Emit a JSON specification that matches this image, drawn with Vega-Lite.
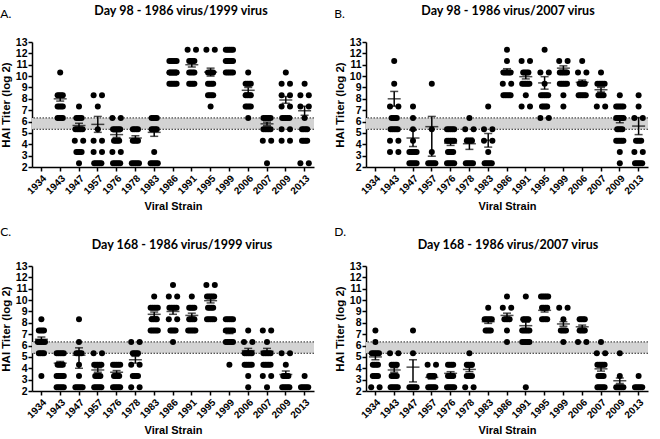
{
"$schema":"https://vega.github.io/schema/vega-lite/v6.json",
"background":"white",
"padding":{"left":0,"top":4,"right":0,"bottom":0},
"config":{
 "font":"Liberation Sans",
 "view":{"stroke":null},
 "axis":{"grid":false,"labelFont":"Liberation Sans","titleFont":"Liberation Sans","labelFontWeight":700,"titleFontWeight":700,"labelColor":"#000","titleColor":"#000","domainColor":"#000","tickColor":"#000","domainWidth":1.5,"tickWidth":1.5,"labelOverlap":false},
 "axisX":{"labelAngle":-45,"labelFontSize":10,"titleFontSize":11,"tickSize":4,"labelPadding":2,"titlePadding":5},
 "axisY":{"labelFontSize":10.5,"titleFontSize":11.5,"tickSize":4,"labelPadding":1,"titlePadding":4},
 "title":{"font":"Lato","fontWeight":"bold","fontSize":12.5,"color":"#000"}
},
"datasets":{
 "ref":[{"lo":5.32,"hi":6.32}],
 "swarm":[{"n":1,"k":[0]},{"n":2,"k":[-4.2,4.2]},{"n":3,"k":[-1.6,0,1.6]},{"n":4,"k":[-2.6,-0.9,0.9,2.6]},{"n":5,"k":[-3.6,-1.8,0,1.8,3.6]}],
 "pts":[
{"p":"A","s":"1943","t":10.32,"n":1},{"p":"A","s":"1943","t":8.32,"n":4},{"p":"A","s":"1943","t":7.32,"n":4},{"p":"A","s":"1943","t":6.32,"n":4},
{"p":"A","s":"1947","t":7.32,"n":1},{"p":"A","s":"1947","t":6.32,"n":4},{"p":"A","s":"1947","t":5.32,"n":5},{"p":"A","s":"1947","t":4.32,"n":2},{"p":"A","s":"1947","t":3.32,"n":4},{"p":"A","s":"1947","t":2.32,"n":1},
{"p":"A","s":"1957","t":8.32,"n":2},{"p":"A","s":"1957","t":7.32,"n":1},{"p":"A","s":"1957","t":5.32,"n":1},{"p":"A","s":"1957","t":4.32,"n":2},{"p":"A","s":"1957","t":3.32,"n":2},{"p":"A","s":"1957","t":2.32,"n":5},
{"p":"A","s":"1976","t":6.32,"n":2},{"p":"A","s":"1976","t":5.32,"n":5},{"p":"A","s":"1976","t":4.32,"n":4},{"p":"A","s":"1976","t":3.32,"n":2},{"p":"A","s":"1976","t":2.32,"n":5},
{"p":"A","s":"1978","t":5.32,"n":4},{"p":"A","s":"1978","t":4.32,"n":4},{"p":"A","s":"1978","t":2.32,"n":5},
{"p":"A","s":"1983","t":6.32,"n":4},{"p":"A","s":"1983","t":5.32,"n":4},{"p":"A","s":"1983","t":3.32,"n":1},{"p":"A","s":"1983","t":2.32,"n":5},
{"p":"A","s":"1986","t":11.32,"n":5},{"p":"A","s":"1986","t":10.32,"n":5},{"p":"A","s":"1986","t":9.32,"n":5},
{"p":"A","s":"1991","t":12.32,"n":2},{"p":"A","s":"1991","t":11.32,"n":4},{"p":"A","s":"1991","t":10.32,"n":4},{"p":"A","s":"1991","t":9.32,"n":4},
{"p":"A","s":"1995","t":12.32,"n":2},{"p":"A","s":"1995","t":10.32,"n":4},{"p":"A","s":"1995","t":9.32,"n":4},{"p":"A","s":"1995","t":8.32,"n":4},{"p":"A","s":"1995","t":7.32,"n":1},
{"p":"A","s":"1999","t":12.32,"n":5},{"p":"A","s":"1999","t":11.32,"n":5},{"p":"A","s":"1999","t":10.32,"n":5},
{"p":"A","s":"2006","t":10.32,"n":1},{"p":"A","s":"2006","t":9.32,"n":4},{"p":"A","s":"2006","t":8.32,"n":4},{"p":"A","s":"2006","t":7.32,"n":4},{"p":"A","s":"2006","t":6.32,"n":1},
{"p":"A","s":"2007","t":6.32,"n":5},{"p":"A","s":"2007","t":5.32,"n":5},{"p":"A","s":"2007","t":4.32,"n":2},{"p":"A","s":"2007","t":2.32,"n":1},
{"p":"A","s":"2009","t":10.32,"n":1},{"p":"A","s":"2009","t":9.32,"n":2},{"p":"A","s":"2009","t":8.32,"n":2},{"p":"A","s":"2009","t":7.32,"n":2},{"p":"A","s":"2009","t":6.32,"n":5},{"p":"A","s":"2009","t":5.32,"n":2},{"p":"A","s":"2009","t":4.32,"n":2},
{"p":"A","s":"2013","t":9.32,"n":1},{"p":"A","s":"2013","t":8.32,"n":2},{"p":"A","s":"2013","t":7.32,"n":2},{"p":"A","s":"2013","t":6.32,"n":1},{"p":"A","s":"2013","t":5.32,"n":4},{"p":"A","s":"2013","t":4.32,"n":4},{"p":"A","s":"2013","t":2.32,"n":2},
{"p":"B","s":"1943","t":11.32,"n":1},{"p":"B","s":"1943","t":9.32,"n":1},{"p":"B","s":"1943","t":7.32,"n":2},{"p":"B","s":"1943","t":6.32,"n":4},{"p":"B","s":"1943","t":5.32,"n":5},{"p":"B","s":"1943","t":4.32,"n":2},{"p":"B","s":"1943","t":3.32,"n":2},
{"p":"B","s":"1947","t":7.32,"n":1},{"p":"B","s":"1947","t":6.32,"n":1},{"p":"B","s":"1947","t":5.32,"n":1},{"p":"B","s":"1947","t":4.32,"n":1},{"p":"B","s":"1947","t":3.32,"n":5},{"p":"B","s":"1947","t":2.32,"n":5},
{"p":"B","s":"1957","t":9.32,"n":1},{"p":"B","s":"1957","t":5.32,"n":1},{"p":"B","s":"1957","t":3.32,"n":1},{"p":"B","s":"1957","t":2.32,"n":5},
{"p":"B","s":"1976","t":5.32,"n":5},{"p":"B","s":"1976","t":4.32,"n":5},{"p":"B","s":"1976","t":3.32,"n":4},{"p":"B","s":"1976","t":2.32,"n":5},
{"p":"B","s":"1978","t":6.32,"n":1},{"p":"B","s":"1978","t":5.32,"n":2},{"p":"B","s":"1978","t":4.32,"n":4},{"p":"B","s":"1978","t":2.32,"n":5},
{"p":"B","s":"1983","t":7.32,"n":1},{"p":"B","s":"1983","t":5.32,"n":2},{"p":"B","s":"1983","t":4.32,"n":2},{"p":"B","s":"1983","t":3.32,"n":1},{"p":"B","s":"1983","t":2.32,"n":5},
{"p":"B","s":"1986","t":12.32,"n":1},{"p":"B","s":"1986","t":11.32,"n":1},{"p":"B","s":"1986","t":10.32,"n":5},{"p":"B","s":"1986","t":9.32,"n":2},{"p":"B","s":"1986","t":8.32,"n":5},
{"p":"B","s":"1991","t":11.32,"n":2},{"p":"B","s":"1991","t":10.32,"n":4},{"p":"B","s":"1991","t":9.32,"n":5},{"p":"B","s":"1991","t":8.32,"n":1},{"p":"B","s":"1991","t":7.32,"n":2},
{"p":"B","s":"1995","t":12.32,"n":1},{"p":"B","s":"1995","t":10.32,"n":2},{"p":"B","s":"1995","t":9.32,"n":1},{"p":"B","s":"1995","t":8.32,"n":5},{"p":"B","s":"1995","t":7.32,"n":4},{"p":"B","s":"1995","t":6.32,"n":2},
{"p":"B","s":"1999","t":11.32,"n":2},{"p":"B","s":"1999","t":10.32,"n":5},{"p":"B","s":"1999","t":9.32,"n":5},{"p":"B","s":"1999","t":8.32,"n":1},{"p":"B","s":"1999","t":7.32,"n":1},
{"p":"B","s":"2006","t":11.32,"n":1},{"p":"B","s":"2006","t":10.32,"n":2},{"p":"B","s":"2006","t":9.32,"n":4},{"p":"B","s":"2006","t":8.32,"n":5},
{"p":"B","s":"2007","t":10.32,"n":1},{"p":"B","s":"2007","t":9.32,"n":5},{"p":"B","s":"2007","t":8.32,"n":4},{"p":"B","s":"2007","t":7.32,"n":2},
{"p":"B","s":"2009","t":8.32,"n":1},{"p":"B","s":"2009","t":7.32,"n":5},{"p":"B","s":"2009","t":6.32,"n":5},{"p":"B","s":"2009","t":5.32,"n":4},{"p":"B","s":"2009","t":4.32,"n":5},{"p":"B","s":"2009","t":3.32,"n":1},{"p":"B","s":"2009","t":2.32,"n":1},
{"p":"B","s":"2013","t":8.32,"n":1},{"p":"B","s":"2013","t":7.32,"n":1},{"p":"B","s":"2013","t":6.32,"n":2},{"p":"B","s":"2013","t":4.32,"n":4},{"p":"B","s":"2013","t":3.32,"n":2},{"p":"B","s":"2013","t":2.32,"n":5},
{"p":"C","s":"1934","t":8.32,"n":1},{"p":"C","s":"1934","t":7.32,"n":4},{"p":"C","s":"1934","t":6.32,"n":5},{"p":"C","s":"1934","t":5.32,"n":4},{"p":"C","s":"1934","t":3.32,"n":1},
{"p":"C","s":"1943","t":5.32,"n":5},{"p":"C","s":"1943","t":4.32,"n":4},{"p":"C","s":"1943","t":3.32,"n":5},{"p":"C","s":"1943","t":2.32,"n":5},
{"p":"C","s":"1947","t":8.32,"n":1},{"p":"C","s":"1947","t":6.32,"n":1},{"p":"C","s":"1947","t":5.32,"n":4},{"p":"C","s":"1947","t":4.32,"n":1},{"p":"C","s":"1947","t":3.32,"n":1},{"p":"C","s":"1947","t":2.32,"n":5},
{"p":"C","s":"1957","t":5.32,"n":2},{"p":"C","s":"1957","t":4.32,"n":5},{"p":"C","s":"1957","t":3.32,"n":4},{"p":"C","s":"1957","t":2.32,"n":5},
{"p":"C","s":"1976","t":4.32,"n":5},{"p":"C","s":"1976","t":3.32,"n":4},{"p":"C","s":"1976","t":2.32,"n":5},
{"p":"C","s":"1978","t":6.32,"n":2},{"p":"C","s":"1978","t":5.32,"n":4},{"p":"C","s":"1978","t":4.32,"n":2},{"p":"C","s":"1978","t":3.32,"n":4},{"p":"C","s":"1978","t":2.32,"n":2},
{"p":"C","s":"1983","t":10.32,"n":1},{"p":"C","s":"1983","t":9.32,"n":5},{"p":"C","s":"1983","t":8.32,"n":4},{"p":"C","s":"1983","t":7.32,"n":5},
{"p":"C","s":"1986","t":11.32,"n":1},{"p":"C","s":"1986","t":10.32,"n":2},{"p":"C","s":"1986","t":9.32,"n":5},{"p":"C","s":"1986","t":8.32,"n":2},{"p":"C","s":"1986","t":7.32,"n":4},{"p":"C","s":"1986","t":6.32,"n":1},
{"p":"C","s":"1991","t":10.32,"n":1},{"p":"C","s":"1991","t":9.32,"n":4},{"p":"C","s":"1991","t":8.32,"n":4},{"p":"C","s":"1991","t":7.32,"n":5},
{"p":"C","s":"1995","t":11.32,"n":2},{"p":"C","s":"1995","t":10.32,"n":5},{"p":"C","s":"1995","t":9.32,"n":4},{"p":"C","s":"1995","t":8.32,"n":5},
{"p":"C","s":"1999","t":8.32,"n":5},{"p":"C","s":"1999","t":7.32,"n":5},{"p":"C","s":"1999","t":6.32,"n":5},{"p":"C","s":"1999","t":4.32,"n":1},
{"p":"C","s":"2006","t":7.32,"n":1},{"p":"C","s":"2006","t":6.32,"n":2},{"p":"C","s":"2006","t":5.32,"n":5},{"p":"C","s":"2006","t":4.32,"n":5},{"p":"C","s":"2006","t":3.32,"n":1},{"p":"C","s":"2006","t":2.32,"n":1},
{"p":"C","s":"2007","t":7.32,"n":2},{"p":"C","s":"2007","t":6.32,"n":1},{"p":"C","s":"2007","t":5.32,"n":5},{"p":"C","s":"2007","t":4.32,"n":5},{"p":"C","s":"2007","t":3.32,"n":2},{"p":"C","s":"2007","t":2.32,"n":1},
{"p":"C","s":"2009","t":5.32,"n":2},{"p":"C","s":"2009","t":4.32,"n":1},{"p":"C","s":"2009","t":3.32,"n":4},{"p":"C","s":"2009","t":2.32,"n":5},
{"p":"C","s":"2013","t":3.32,"n":1},{"p":"C","s":"2013","t":2.32,"n":5},
{"p":"D","s":"1934","t":7.32,"n":1},{"p":"D","s":"1934","t":6.32,"n":1},{"p":"D","s":"1934","t":5.32,"n":5},{"p":"D","s":"1934","t":4.32,"n":4},{"p":"D","s":"1934","t":3.32,"n":4},{"p":"D","s":"1934","t":2.32,"n":2},
{"p":"D","s":"1943","t":5.32,"n":2},{"p":"D","s":"1943","t":4.32,"n":4},{"p":"D","s":"1943","t":3.32,"n":4},{"p":"D","s":"1943","t":2.32,"n":5},
{"p":"D","s":"1947","t":7.32,"n":1},{"p":"D","s":"1947","t":5.32,"n":1},{"p":"D","s":"1947","t":2.32,"n":5},
{"p":"D","s":"1957","t":4.32,"n":2},{"p":"D","s":"1957","t":3.32,"n":4},{"p":"D","s":"1957","t":2.32,"n":5},
{"p":"D","s":"1976","t":4.32,"n":4},{"p":"D","s":"1976","t":3.32,"n":4},{"p":"D","s":"1976","t":2.32,"n":5},
{"p":"D","s":"1978","t":5.32,"n":1},{"p":"D","s":"1978","t":4.32,"n":4},{"p":"D","s":"1978","t":3.32,"n":4},{"p":"D","s":"1978","t":2.32,"n":2},
{"p":"D","s":"1983","t":9.32,"n":1},{"p":"D","s":"1983","t":8.32,"n":5},{"p":"D","s":"1983","t":7.32,"n":4},
{"p":"D","s":"1986","t":10.32,"n":1},{"p":"D","s":"1986","t":9.32,"n":2},{"p":"D","s":"1986","t":8.32,"n":4},{"p":"D","s":"1986","t":7.32,"n":1},{"p":"D","s":"1986","t":6.32,"n":1},
{"p":"D","s":"1991","t":10.32,"n":1},{"p":"D","s":"1991","t":8.32,"n":4},{"p":"D","s":"1991","t":7.32,"n":5},{"p":"D","s":"1991","t":6.32,"n":5},{"p":"D","s":"1991","t":2.32,"n":1},
{"p":"D","s":"1995","t":10.32,"n":5},{"p":"D","s":"1995","t":9.32,"n":4},{"p":"D","s":"1995","t":8.32,"n":4},
{"p":"D","s":"1999","t":9.32,"n":2},{"p":"D","s":"1999","t":8.32,"n":1},{"p":"D","s":"1999","t":7.32,"n":4},{"p":"D","s":"1999","t":6.32,"n":1},
{"p":"D","s":"2006","t":8.32,"n":4},{"p":"D","s":"2006","t":7.32,"n":4},{"p":"D","s":"2006","t":6.32,"n":2},
{"p":"D","s":"2007","t":6.32,"n":1},{"p":"D","s":"2007","t":5.32,"n":2},{"p":"D","s":"2007","t":4.32,"n":5},{"p":"D","s":"2007","t":3.32,"n":4},{"p":"D","s":"2007","t":2.32,"n":5},
{"p":"D","s":"2009","t":5.32,"n":1},{"p":"D","s":"2009","t":3.32,"n":1},{"p":"D","s":"2009","t":2.32,"n":5},
{"p":"D","s":"2013","t":3.32,"n":1},{"p":"D","s":"2013","t":2.32,"n":5}
 ],
 "bars":[
{"p":"A","s":"1943","m":8.0,"lo":7.8,"hi":8.2},{"p":"A","s":"1947","m":5.65,"lo":5.45,"hi":5.85},{"p":"A","s":"1957","m":5.75,"lo":5.05,"hi":6.45},{"p":"A","s":"1976","m":4.85,"lo":4.6,"hi":5.1},{"p":"A","s":"1978","m":4.55,"lo":4.35,"hi":4.75},{"p":"A","s":"1983","m":5.05,"lo":4.7,"hi":5.4},{"p":"A","s":"1986","m":10.3,"lo":10.1,"hi":10.5},{"p":"A","s":"1991","m":11.0,"lo":10.8,"hi":11.2},{"p":"A","s":"1995","m":10.35,"lo":10.0,"hi":10.7},{"p":"A","s":"1999","m":11.35,"lo":11.2,"hi":11.5},{"p":"A","s":"2006","m":8.75,"lo":8.5,"hi":9.0},{"p":"A","s":"2007","m":5.8,"lo":5.65,"hi":5.95},{"p":"A","s":"2009","m":7.9,"lo":7.6,"hi":8.2},{"p":"A","s":"2013","m":6.95,"lo":6.55,"hi":7.35},
{"p":"B","s":"1943","m":8.0,"lo":7.35,"hi":8.65},{"p":"B","s":"1947","m":4.55,"lo":3.8,"hi":5.25},{"p":"B","s":"1957","m":5.55,"lo":2.95,"hi":6.45},{"p":"B","s":"1976","m":4.1,"lo":3.9,"hi":4.3},{"p":"B","s":"1978","m":4.05,"lo":3.55,"hi":4.55},{"p":"B","s":"1983","m":4.35,"lo":3.75,"hi":4.95},{"p":"B","s":"1986","m":10.4,"lo":10.15,"hi":10.65},{"p":"B","s":"1991","m":9.95,"lo":9.75,"hi":10.15},{"p":"B","s":"1995","m":9.4,"lo":8.85,"hi":9.95},{"p":"B","s":"1999","m":10.7,"lo":10.5,"hi":10.9},{"p":"B","s":"2006","m":9.45,"lo":9.25,"hi":9.65},{"p":"B","s":"2007","m":8.8,"lo":8.6,"hi":9.0},{"p":"B","s":"2009","m":6.15,"lo":5.9,"hi":6.4},{"p":"B","s":"2013","m":5.6,"lo":4.85,"hi":6.35},
{"p":"C","s":"1934","m":6.55,"lo":6.35,"hi":6.75},{"p":"C","s":"1943","m":4.45,"lo":4.3,"hi":4.6},{"p":"C","s":"1947","m":5.15,"lo":4.0,"hi":5.8},{"p":"C","s":"1957","m":3.85,"lo":3.65,"hi":4.05},{"p":"C","s":"1976","m":3.65,"lo":3.5,"hi":3.8},{"p":"C","s":"1978","m":4.75,"lo":4.45,"hi":5.05},{"p":"C","s":"1983","m":8.75,"lo":8.55,"hi":8.95},{"p":"C","s":"1986","m":9.0,"lo":8.75,"hi":9.25},{"p":"C","s":"1991","m":8.65,"lo":8.45,"hi":8.85},{"p":"C","s":"1995","m":9.95,"lo":9.75,"hi":10.15},{"p":"C","s":"1999","m":7.2,"lo":7.05,"hi":7.35},{"p":"C","s":"2006","m":5.55,"lo":5.35,"hi":5.75},{"p":"C","s":"2007","m":5.5,"lo":5.25,"hi":5.75},{"p":"C","s":"2009","m":3.45,"lo":3.2,"hi":3.75},{"p":"C","s":"2013","m":2.4,"lo":2.35,"hi":2.45},
{"p":"D","s":"1934","m":5.0,"lo":4.75,"hi":5.25},{"p":"D","s":"1943","m":3.85,"lo":3.65,"hi":4.05},{"p":"D","s":"1947","m":4.1,"lo":2.8,"hi":4.75},{"p":"D","s":"1957","m":3.2,"lo":3.05,"hi":3.35},{"p":"D","s":"1976","m":3.55,"lo":3.4,"hi":3.7},{"p":"D","s":"1978","m":3.9,"lo":3.7,"hi":4.1},{"p":"D","s":"1983","m":8.1,"lo":7.95,"hi":8.25},{"p":"D","s":"1986","m":8.65,"lo":8.45,"hi":8.85},{"p":"D","s":"1991","m":7.75,"lo":7.45,"hi":8.05},{"p":"D","s":"1995","m":9.1,"lo":8.95,"hi":9.25},{"p":"D","s":"1999","m":7.9,"lo":7.7,"hi":8.1},{"p":"D","s":"2006","m":7.65,"lo":7.5,"hi":7.8},{"p":"D","s":"2007","m":3.95,"lo":3.75,"hi":4.15},{"p":"D","s":"2009","m":2.9,"lo":2.65,"hi":3.15},{"p":"D","s":"2013","m":2.4,"lo":2.35,"hi":2.45}
 ]
},
"spacing":13,
"vconcat":[
 {"spacing":19,"hconcat":[
  {"title":{"text":"A.","anchor":"start","offset":-16,"fontWeight":"normal","fontSize":12},
   "vconcat":[{
    "title":{"text":"Day 98 - 1986 virus/1999 virus","frame":"group","dx":8,"offset":20},
    "width":282,"height":125,
    "layer":[
     {"data":{"name":"ref"},"mark":{"type":"rect","color":"#d3d3d3"},"encoding":{"y":{"field":"lo","type":"quantitative","title":"HAI Titer (log 2)","scale":{"domain":[2,13],"nice":false,"zero":false},"axis":{"values":[2,3,4,5,6,7,8,9,10,11,12,13]}},"y2":{"field":"hi"}}},
     {"data":{"name":"ref"},"mark":{"type":"rule","color":"#222","strokeDash":[1.5,1.5],"strokeWidth":1},"encoding":{"y":{"field":"lo","type":"quantitative","title":"HAI Titer (log 2)","scale":{"domain":[2,13],"nice":false,"zero":false},"axis":{"values":[2,3,4,5,6,7,8,9,10,11,12,13]}}}},
     {"data":{"name":"ref"},"mark":{"type":"rule","color":"#222","strokeDash":[1.5,1.5],"strokeWidth":1},"encoding":{"y":{"field":"hi","type":"quantitative","title":"HAI Titer (log 2)","scale":{"domain":[2,13],"nice":false,"zero":false},"axis":{"values":[2,3,4,5,6,7,8,9,10,11,12,13]}}}},
     {"data":{"name":"pts"},"transform":[{"filter":"datum.p=='A'"},{"lookup":"n","from":{"data":{"name":"swarm"},"key":"n","fields":["k"]}},{"flatten":["k"]}],
      "mark":{"type":"circle","size":36,"color":"#000","opacity":1},
      "encoding":{"x":{"field":"s","type":"nominal","title":"Viral Strain","scale":{"type":"band","domain":["1934","1943","1947","1957","1976","1978","1983","1986","1991","1995","1999","2006","2007","2009","2013"],"paddingInner":0,"paddingOuter":0}},
       "xOffset":{"field":"k","type":"quantitative","scale":{"domain":[-9.4,9.4],"range":[0,18.8]}},
       "y":{"field":"t","type":"quantitative","title":"HAI Titer (log 2)","scale":{"domain":[2,13],"nice":false,"zero":false},"axis":{"values":[2,3,4,5,6,7,8,9,10,11,12,13]}}}},
     {"data":{"name":"bars"},"transform":[{"filter":"datum.p=='A'"}],"mark":{"type":"rule","color":"#000","strokeWidth":1.5},
      "encoding":{"x":{"field":"s","type":"nominal","title":"Viral Strain","scale":{"type":"band","domain":["1934","1943","1947","1957","1976","1978","1983","1986","1991","1995","1999","2006","2007","2009","2013"],"paddingInner":0,"paddingOuter":0}},
       "y":{"field":"lo","type":"quantitative","title":"HAI Titer (log 2)","scale":{"domain":[2,13],"nice":false,"zero":false},"axis":{"values":[2,3,4,5,6,7,8,9,10,11,12,13]}},"y2":{"field":"hi"}}},
     {"data":{"name":"bars"},"transform":[{"filter":"datum.p=='A'"}],"mark":{"type":"tick","color":"#000","size":8,"thickness":1.5},
      "encoding":{"x":{"field":"s","type":"nominal","title":"Viral Strain","scale":{"type":"band","domain":["1934","1943","1947","1957","1976","1978","1983","1986","1991","1995","1999","2006","2007","2009","2013"],"paddingInner":0,"paddingOuter":0}},
       "y":{"field":"lo","type":"quantitative","title":"HAI Titer (log 2)","scale":{"domain":[2,13],"nice":false,"zero":false},"axis":{"values":[2,3,4,5,6,7,8,9,10,11,12,13]}}}},
     {"data":{"name":"bars"},"transform":[{"filter":"datum.p=='A'"}],"mark":{"type":"tick","color":"#000","size":8,"thickness":1.5},
      "encoding":{"x":{"field":"s","type":"nominal","title":"Viral Strain","scale":{"type":"band","domain":["1934","1943","1947","1957","1976","1978","1983","1986","1991","1995","1999","2006","2007","2009","2013"],"paddingInner":0,"paddingOuter":0}},
       "y":{"field":"hi","type":"quantitative","title":"HAI Titer (log 2)","scale":{"domain":[2,13],"nice":false,"zero":false},"axis":{"values":[2,3,4,5,6,7,8,9,10,11,12,13]}}}},
     {"data":{"name":"bars"},"transform":[{"filter":"datum.p=='A'"}],"mark":{"type":"tick","color":"#000","size":13,"thickness":1.5},
      "encoding":{"x":{"field":"s","type":"nominal","title":"Viral Strain","scale":{"type":"band","domain":["1934","1943","1947","1957","1976","1978","1983","1986","1991","1995","1999","2006","2007","2009","2013"],"paddingInner":0,"paddingOuter":0}},
       "y":{"field":"m","type":"quantitative","title":"HAI Titer (log 2)","scale":{"domain":[2,13],"nice":false,"zero":false},"axis":{"values":[2,3,4,5,6,7,8,9,10,11,12,13]}}}}
    ]}]},
  {"title":{"text":"B.","anchor":"start","offset":-16,"fontWeight":"normal","fontSize":12},
   "vconcat":[{
    "title":{"text":"Day 98 - 1986 virus/2007 virus","frame":"group","dx":1,"offset":20},
    "width":282,"height":125,
    "layer":[
     {"data":{"name":"ref"},"mark":{"type":"rect","color":"#d3d3d3"},"encoding":{"y":{"field":"lo","type":"quantitative","title":"HAI Titer (log 2)","scale":{"domain":[2,13],"nice":false,"zero":false},"axis":{"values":[2,3,4,5,6,7,8,9,10,11,12,13]}},"y2":{"field":"hi"}}},
     {"data":{"name":"ref"},"mark":{"type":"rule","color":"#222","strokeDash":[1.5,1.5],"strokeWidth":1},"encoding":{"y":{"field":"lo","type":"quantitative","title":"HAI Titer (log 2)","scale":{"domain":[2,13],"nice":false,"zero":false},"axis":{"values":[2,3,4,5,6,7,8,9,10,11,12,13]}}}},
     {"data":{"name":"ref"},"mark":{"type":"rule","color":"#222","strokeDash":[1.5,1.5],"strokeWidth":1},"encoding":{"y":{"field":"hi","type":"quantitative","title":"HAI Titer (log 2)","scale":{"domain":[2,13],"nice":false,"zero":false},"axis":{"values":[2,3,4,5,6,7,8,9,10,11,12,13]}}}},
     {"data":{"name":"pts"},"transform":[{"filter":"datum.p=='B'"},{"lookup":"n","from":{"data":{"name":"swarm"},"key":"n","fields":["k"]}},{"flatten":["k"]}],
      "mark":{"type":"circle","size":36,"color":"#000","opacity":1},
      "encoding":{"x":{"field":"s","type":"nominal","title":"Viral Strain","scale":{"type":"band","domain":["1934","1943","1947","1957","1976","1978","1983","1986","1991","1995","1999","2006","2007","2009","2013"],"paddingInner":0,"paddingOuter":0}},
       "xOffset":{"field":"k","type":"quantitative","scale":{"domain":[-9.4,9.4],"range":[0,18.8]}},
       "y":{"field":"t","type":"quantitative","title":"HAI Titer (log 2)","scale":{"domain":[2,13],"nice":false,"zero":false},"axis":{"values":[2,3,4,5,6,7,8,9,10,11,12,13]}}}},
     {"data":{"name":"bars"},"transform":[{"filter":"datum.p=='B'"}],"mark":{"type":"rule","color":"#000","strokeWidth":1.5},
      "encoding":{"x":{"field":"s","type":"nominal","title":"Viral Strain","scale":{"type":"band","domain":["1934","1943","1947","1957","1976","1978","1983","1986","1991","1995","1999","2006","2007","2009","2013"],"paddingInner":0,"paddingOuter":0}},
       "y":{"field":"lo","type":"quantitative","title":"HAI Titer (log 2)","scale":{"domain":[2,13],"nice":false,"zero":false},"axis":{"values":[2,3,4,5,6,7,8,9,10,11,12,13]}},"y2":{"field":"hi"}}},
     {"data":{"name":"bars"},"transform":[{"filter":"datum.p=='B'"}],"mark":{"type":"tick","color":"#000","size":8,"thickness":1.5},
      "encoding":{"x":{"field":"s","type":"nominal","title":"Viral Strain","scale":{"type":"band","domain":["1934","1943","1947","1957","1976","1978","1983","1986","1991","1995","1999","2006","2007","2009","2013"],"paddingInner":0,"paddingOuter":0}},
       "y":{"field":"lo","type":"quantitative","title":"HAI Titer (log 2)","scale":{"domain":[2,13],"nice":false,"zero":false},"axis":{"values":[2,3,4,5,6,7,8,9,10,11,12,13]}}}},
     {"data":{"name":"bars"},"transform":[{"filter":"datum.p=='B'"}],"mark":{"type":"tick","color":"#000","size":8,"thickness":1.5},
      "encoding":{"x":{"field":"s","type":"nominal","title":"Viral Strain","scale":{"type":"band","domain":["1934","1943","1947","1957","1976","1978","1983","1986","1991","1995","1999","2006","2007","2009","2013"],"paddingInner":0,"paddingOuter":0}},
       "y":{"field":"hi","type":"quantitative","title":"HAI Titer (log 2)","scale":{"domain":[2,13],"nice":false,"zero":false},"axis":{"values":[2,3,4,5,6,7,8,9,10,11,12,13]}}}},
     {"data":{"name":"bars"},"transform":[{"filter":"datum.p=='B'"}],"mark":{"type":"tick","color":"#000","size":13,"thickness":1.5},
      "encoding":{"x":{"field":"s","type":"nominal","title":"Viral Strain","scale":{"type":"band","domain":["1934","1943","1947","1957","1976","1978","1983","1986","1991","1995","1999","2006","2007","2009","2013"],"paddingInner":0,"paddingOuter":0}},
       "y":{"field":"m","type":"quantitative","title":"HAI Titer (log 2)","scale":{"domain":[2,13],"nice":false,"zero":false},"axis":{"values":[2,3,4,5,6,7,8,9,10,11,12,13]}}}}
    ]}]}
 ]},
 {"spacing":19,"hconcat":[
  {"title":{"text":"C.","anchor":"start","offset":0,"fontWeight":"normal","fontSize":12},
   "vconcat":[{
    "title":{"text":"Day 168 - 1986 virus/1999 virus","frame":"group","dx":9,"offset":10},
    "width":282,"height":125,
    "layer":[
     {"data":{"name":"ref"},"mark":{"type":"rect","color":"#d3d3d3"},"encoding":{"y":{"field":"lo","type":"quantitative","title":"HAI Titer (log 2)","scale":{"domain":[2,13],"nice":false,"zero":false},"axis":{"values":[2,3,4,5,6,7,8,9,10,11,12,13]}},"y2":{"field":"hi"}}},
     {"data":{"name":"ref"},"mark":{"type":"rule","color":"#222","strokeDash":[1.5,1.5],"strokeWidth":1},"encoding":{"y":{"field":"lo","type":"quantitative","title":"HAI Titer (log 2)","scale":{"domain":[2,13],"nice":false,"zero":false},"axis":{"values":[2,3,4,5,6,7,8,9,10,11,12,13]}}}},
     {"data":{"name":"ref"},"mark":{"type":"rule","color":"#222","strokeDash":[1.5,1.5],"strokeWidth":1},"encoding":{"y":{"field":"hi","type":"quantitative","title":"HAI Titer (log 2)","scale":{"domain":[2,13],"nice":false,"zero":false},"axis":{"values":[2,3,4,5,6,7,8,9,10,11,12,13]}}}},
     {"data":{"name":"pts"},"transform":[{"filter":"datum.p=='C'"},{"lookup":"n","from":{"data":{"name":"swarm"},"key":"n","fields":["k"]}},{"flatten":["k"]}],
      "mark":{"type":"circle","size":36,"color":"#000","opacity":1},
      "encoding":{"x":{"field":"s","type":"nominal","title":"Viral Strain","scale":{"type":"band","domain":["1934","1943","1947","1957","1976","1978","1983","1986","1991","1995","1999","2006","2007","2009","2013"],"paddingInner":0,"paddingOuter":0}},
       "xOffset":{"field":"k","type":"quantitative","scale":{"domain":[-9.4,9.4],"range":[0,18.8]}},
       "y":{"field":"t","type":"quantitative","title":"HAI Titer (log 2)","scale":{"domain":[2,13],"nice":false,"zero":false},"axis":{"values":[2,3,4,5,6,7,8,9,10,11,12,13]}}}},
     {"data":{"name":"bars"},"transform":[{"filter":"datum.p=='C'"}],"mark":{"type":"rule","color":"#000","strokeWidth":1.5},
      "encoding":{"x":{"field":"s","type":"nominal","title":"Viral Strain","scale":{"type":"band","domain":["1934","1943","1947","1957","1976","1978","1983","1986","1991","1995","1999","2006","2007","2009","2013"],"paddingInner":0,"paddingOuter":0}},
       "y":{"field":"lo","type":"quantitative","title":"HAI Titer (log 2)","scale":{"domain":[2,13],"nice":false,"zero":false},"axis":{"values":[2,3,4,5,6,7,8,9,10,11,12,13]}},"y2":{"field":"hi"}}},
     {"data":{"name":"bars"},"transform":[{"filter":"datum.p=='C'"}],"mark":{"type":"tick","color":"#000","size":8,"thickness":1.5},
      "encoding":{"x":{"field":"s","type":"nominal","title":"Viral Strain","scale":{"type":"band","domain":["1934","1943","1947","1957","1976","1978","1983","1986","1991","1995","1999","2006","2007","2009","2013"],"paddingInner":0,"paddingOuter":0}},
       "y":{"field":"lo","type":"quantitative","title":"HAI Titer (log 2)","scale":{"domain":[2,13],"nice":false,"zero":false},"axis":{"values":[2,3,4,5,6,7,8,9,10,11,12,13]}}}},
     {"data":{"name":"bars"},"transform":[{"filter":"datum.p=='C'"}],"mark":{"type":"tick","color":"#000","size":8,"thickness":1.5},
      "encoding":{"x":{"field":"s","type":"nominal","title":"Viral Strain","scale":{"type":"band","domain":["1934","1943","1947","1957","1976","1978","1983","1986","1991","1995","1999","2006","2007","2009","2013"],"paddingInner":0,"paddingOuter":0}},
       "y":{"field":"hi","type":"quantitative","title":"HAI Titer (log 2)","scale":{"domain":[2,13],"nice":false,"zero":false},"axis":{"values":[2,3,4,5,6,7,8,9,10,11,12,13]}}}},
     {"data":{"name":"bars"},"transform":[{"filter":"datum.p=='C'"}],"mark":{"type":"tick","color":"#000","size":13,"thickness":1.5},
      "encoding":{"x":{"field":"s","type":"nominal","title":"Viral Strain","scale":{"type":"band","domain":["1934","1943","1947","1957","1976","1978","1983","1986","1991","1995","1999","2006","2007","2009","2013"],"paddingInner":0,"paddingOuter":0}},
       "y":{"field":"m","type":"quantitative","title":"HAI Titer (log 2)","scale":{"domain":[2,13],"nice":false,"zero":false},"axis":{"values":[2,3,4,5,6,7,8,9,10,11,12,13]}}}}
    ]}]},
  {"title":{"text":"D.","anchor":"start","offset":0,"fontWeight":"normal","fontSize":12},
   "vconcat":[{
    "title":{"text":"Day 168 - 1986 virus/2007 virus","frame":"group","dx":1,"offset":10},
    "width":282,"height":125,
    "layer":[
     {"data":{"name":"ref"},"mark":{"type":"rect","color":"#d3d3d3"},"encoding":{"y":{"field":"lo","type":"quantitative","title":"HAI Titer (log 2)","scale":{"domain":[2,13],"nice":false,"zero":false},"axis":{"values":[2,3,4,5,6,7,8,9,10,11,12,13]}},"y2":{"field":"hi"}}},
     {"data":{"name":"ref"},"mark":{"type":"rule","color":"#222","strokeDash":[1.5,1.5],"strokeWidth":1},"encoding":{"y":{"field":"lo","type":"quantitative","title":"HAI Titer (log 2)","scale":{"domain":[2,13],"nice":false,"zero":false},"axis":{"values":[2,3,4,5,6,7,8,9,10,11,12,13]}}}},
     {"data":{"name":"ref"},"mark":{"type":"rule","color":"#222","strokeDash":[1.5,1.5],"strokeWidth":1},"encoding":{"y":{"field":"hi","type":"quantitative","title":"HAI Titer (log 2)","scale":{"domain":[2,13],"nice":false,"zero":false},"axis":{"values":[2,3,4,5,6,7,8,9,10,11,12,13]}}}},
     {"data":{"name":"pts"},"transform":[{"filter":"datum.p=='D'"},{"lookup":"n","from":{"data":{"name":"swarm"},"key":"n","fields":["k"]}},{"flatten":["k"]}],
      "mark":{"type":"circle","size":36,"color":"#000","opacity":1},
      "encoding":{"x":{"field":"s","type":"nominal","title":"Viral Strain","scale":{"type":"band","domain":["1934","1943","1947","1957","1976","1978","1983","1986","1991","1995","1999","2006","2007","2009","2013"],"paddingInner":0,"paddingOuter":0}},
       "xOffset":{"field":"k","type":"quantitative","scale":{"domain":[-9.4,9.4],"range":[0,18.8]}},
       "y":{"field":"t","type":"quantitative","title":"HAI Titer (log 2)","scale":{"domain":[2,13],"nice":false,"zero":false},"axis":{"values":[2,3,4,5,6,7,8,9,10,11,12,13]}}}},
     {"data":{"name":"bars"},"transform":[{"filter":"datum.p=='D'"}],"mark":{"type":"rule","color":"#000","strokeWidth":1.5},
      "encoding":{"x":{"field":"s","type":"nominal","title":"Viral Strain","scale":{"type":"band","domain":["1934","1943","1947","1957","1976","1978","1983","1986","1991","1995","1999","2006","2007","2009","2013"],"paddingInner":0,"paddingOuter":0}},
       "y":{"field":"lo","type":"quantitative","title":"HAI Titer (log 2)","scale":{"domain":[2,13],"nice":false,"zero":false},"axis":{"values":[2,3,4,5,6,7,8,9,10,11,12,13]}},"y2":{"field":"hi"}}},
     {"data":{"name":"bars"},"transform":[{"filter":"datum.p=='D'"}],"mark":{"type":"tick","color":"#000","size":8,"thickness":1.5},
      "encoding":{"x":{"field":"s","type":"nominal","title":"Viral Strain","scale":{"type":"band","domain":["1934","1943","1947","1957","1976","1978","1983","1986","1991","1995","1999","2006","2007","2009","2013"],"paddingInner":0,"paddingOuter":0}},
       "y":{"field":"lo","type":"quantitative","title":"HAI Titer (log 2)","scale":{"domain":[2,13],"nice":false,"zero":false},"axis":{"values":[2,3,4,5,6,7,8,9,10,11,12,13]}}}},
     {"data":{"name":"bars"},"transform":[{"filter":"datum.p=='D'"}],"mark":{"type":"tick","color":"#000","size":8,"thickness":1.5},
      "encoding":{"x":{"field":"s","type":"nominal","title":"Viral Strain","scale":{"type":"band","domain":["1934","1943","1947","1957","1976","1978","1983","1986","1991","1995","1999","2006","2007","2009","2013"],"paddingInner":0,"paddingOuter":0}},
       "y":{"field":"hi","type":"quantitative","title":"HAI Titer (log 2)","scale":{"domain":[2,13],"nice":false,"zero":false},"axis":{"values":[2,3,4,5,6,7,8,9,10,11,12,13]}}}},
     {"data":{"name":"bars"},"transform":[{"filter":"datum.p=='D'"}],"mark":{"type":"tick","color":"#000","size":13,"thickness":1.5},
      "encoding":{"x":{"field":"s","type":"nominal","title":"Viral Strain","scale":{"type":"band","domain":["1934","1943","1947","1957","1976","1978","1983","1986","1991","1995","1999","2006","2007","2009","2013"],"paddingInner":0,"paddingOuter":0}},
       "y":{"field":"m","type":"quantitative","title":"HAI Titer (log 2)","scale":{"domain":[2,13],"nice":false,"zero":false},"axis":{"values":[2,3,4,5,6,7,8,9,10,11,12,13]}}}}
    ]}]}
 ]}
]
}
